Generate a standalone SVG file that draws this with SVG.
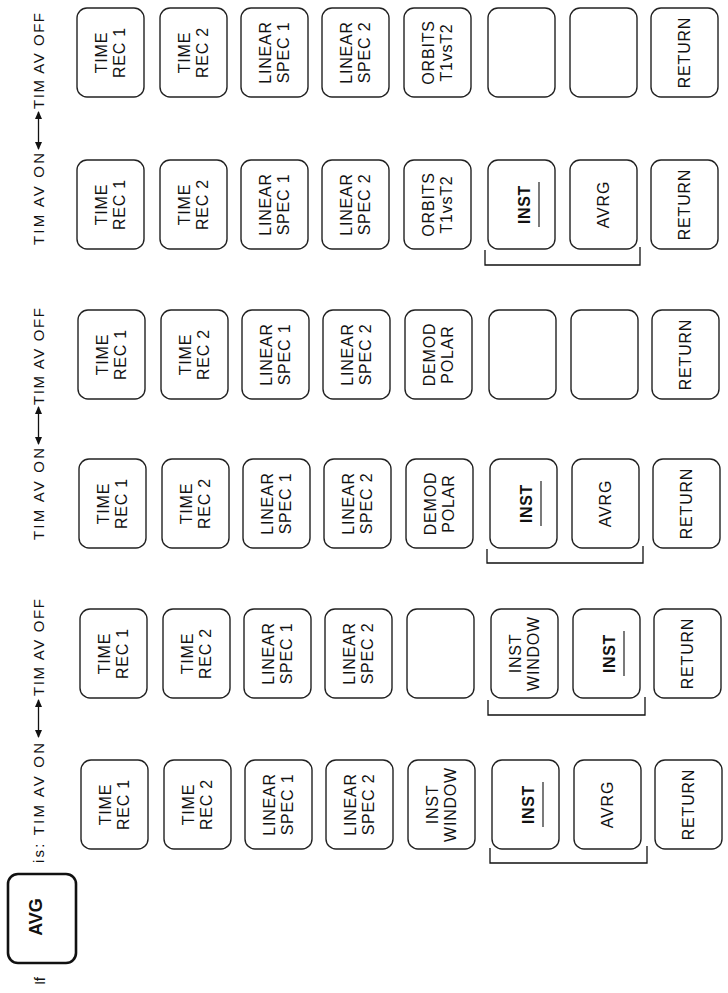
<svg xmlns="http://www.w3.org/2000/svg" width="728" height="993" viewBox="0 0 728 993">
<style>
.btn{fill:none;stroke:#222;stroke-width:1.4}
.lbl{font-family:"Liberation Sans",Arial,sans-serif;font-size:16px;letter-spacing:0.8px;fill:#111;text-anchor:middle}
.b{font-weight:bold;letter-spacing:0.6px}
.hdr{font-family:"Liberation Sans",Arial,sans-serif;font-size:15px;fill:#111}
.ul{stroke:#222;stroke-width:1.2}
.con{fill:none;stroke:#111;stroke-width:1.3}
</style>
<defs>
<marker id="ah" markerUnits="userSpaceOnUse" markerWidth="8" markerHeight="8" refX="7" refY="4" orient="auto-start-reverse" viewBox="0 0 8 8">
<path d="M0,0.5 L8,4 L0,7.5 z" fill="#111"/>
</marker>
</defs>
<rect width="728" height="993" fill="#fff"/>

<g id="header" class="hdr" transform="rotate(-90)">
<text x="-985" y="45" textLength="8">If</text>
<text x="-863" y="44" textLength="120" lengthAdjust="spacing">is: TIM AV ON</text>
<text x="-696" y="44" textLength="97" lengthAdjust="spacing">TIM AV OFF</text>
<text x="-540" y="44" textLength="92" lengthAdjust="spacing">TIM AV ON</text>
<text x="-405" y="44" textLength="97" lengthAdjust="spacing">TIM AV OFF</text>
<text x="-245" y="44" textLength="92" lengthAdjust="spacing">TIM AV ON</text>
<text x="-109" y="44" textLength="96" lengthAdjust="spacing">TIM AV OFF</text>
</g>

<g id="avg-key">
<rect x="8" y="874" width="68" height="89" rx="10" fill="none" stroke="#111" stroke-width="2.6"/>
<text transform="translate(42,917) rotate(-90)" y="0" font-family="Liberation Sans,Arial,sans-serif" font-size="18" font-weight="bold" text-anchor="middle" fill="#111">AVG</text>
</g>

<g id="connectors">
<line class="con" x1="38.5" y1="737" x2="38.5" y2="700" marker-start="url(#ah)" marker-end="url(#ah)"/>
<line class="con" x1="38.5" y1="444" x2="38.5" y2="407" marker-start="url(#ah)" marker-end="url(#ah)"/>
<line class="con" x1="38.5" y1="149" x2="38.5" y2="112" marker-start="url(#ah)" marker-end="url(#ah)"/>
<path class="con" d="M490,848 V863 H647 V846"/>
<path class="con" d="M488,700 V715 H645 V697"/>
<path class="con" d="M487,549 V563 H643 V546"/>
<path class="con" d="M485,250 V265 H640 V247"/>
</g>

<!-- Panel A: TIM AV ON (pair 1) -->
<g id="panel-A" transform="translate(2,760)">
<g id="A1" transform="translate(79,0)"><rect class="btn" width="67" height="89" rx="10"/><text class="lbl" transform="translate(33.5,44.5) rotate(-90)"><tspan x="0" y="-3.5">TIME</tspan><tspan x="0" y="14.5">REC 1</tspan></text></g>
<g id="A2" transform="translate(162,0)"><rect class="btn" width="67" height="89" rx="10"/><text class="lbl" transform="translate(33.5,44.5) rotate(-90)"><tspan x="0" y="-3.5">TIME</tspan><tspan x="0" y="14.5">REC 2</tspan></text></g>
<g id="A3" transform="translate(243,0)"><rect class="btn" width="67" height="89" rx="10"/><text class="lbl" transform="translate(33.5,44.5) rotate(-90)"><tspan x="0" y="-3.5">LINEAR</tspan><tspan x="0" y="14.5">SPEC 1</tspan></text></g>
<g id="A4" transform="translate(324,0)"><rect class="btn" width="67" height="89" rx="10"/><text class="lbl" transform="translate(33.5,44.5) rotate(-90)"><tspan x="0" y="-3.5">LINEAR</tspan><tspan x="0" y="14.5">SPEC 2</tspan></text></g>
<g id="A5" transform="translate(406,0)"><rect class="btn" width="67" height="89" rx="10"/><text class="lbl" transform="translate(33.5,44.5) rotate(-90)"><tspan x="0" y="-3.5">INST</tspan><tspan x="0" y="14.5">WINDOW</tspan></text></g>
<g id="A6" transform="translate(490,0)"><rect class="btn" width="67" height="89" rx="10"/><text class="lbl b" transform="translate(33.5,44.5) rotate(-90)" y="8">INST</text><line class="ul" x1="51" y1="22" x2="51" y2="67"/></g>
<g id="A7" transform="translate(572,0)"><rect class="btn" width="67" height="89" rx="10"/><text class="lbl" transform="translate(33.5,44.5) rotate(-90)" y="5.5">AVRG</text></g>
<g id="A8" transform="translate(653,0)"><rect class="btn" width="67" height="89" rx="10"/><text class="lbl" transform="translate(33.5,44.5) rotate(-90)" y="5.5">RETURN</text></g>
</g>

<!-- Panel B: TIM AV OFF (pair 1) -->
<g id="panel-B" transform="translate(1,609)">
<g id="B1" transform="translate(79,0)"><rect class="btn" width="67" height="89" rx="10"/><text class="lbl" transform="translate(33.5,44.5) rotate(-90)"><tspan x="0" y="-3.5">TIME</tspan><tspan x="0" y="14.5">REC 1</tspan></text></g>
<g id="B2" transform="translate(162,0)"><rect class="btn" width="67" height="89" rx="10"/><text class="lbl" transform="translate(33.5,44.5) rotate(-90)"><tspan x="0" y="-3.5">TIME</tspan><tspan x="0" y="14.5">REC 2</tspan></text></g>
<g id="B3" transform="translate(243,0)"><rect class="btn" width="67" height="89" rx="10"/><text class="lbl" transform="translate(33.5,44.5) rotate(-90)"><tspan x="0" y="-3.5">LINEAR</tspan><tspan x="0" y="14.5">SPEC 1</tspan></text></g>
<g id="B4" transform="translate(324,0)"><rect class="btn" width="67" height="89" rx="10"/><text class="lbl" transform="translate(33.5,44.5) rotate(-90)"><tspan x="0" y="-3.5">LINEAR</tspan><tspan x="0" y="14.5">SPEC 2</tspan></text></g>
<g id="B5" transform="translate(406,0)"><rect class="btn" width="67" height="89" rx="10"/></g>
<g id="B6" transform="translate(490,0)"><rect class="btn" width="67" height="89" rx="10"/><text class="lbl" transform="translate(33.5,44.5) rotate(-90)"><tspan x="0" y="-3.5">INST</tspan><tspan x="0" y="14.5">WINDOW</tspan></text></g>
<g id="B7" transform="translate(572,0)"><rect class="btn" width="67" height="89" rx="10"/><text class="lbl b" transform="translate(33.5,44.5) rotate(-90)" y="8">INST</text><line class="ul" x1="51" y1="22" x2="51" y2="67"/></g>
<g id="B8" transform="translate(653,0)"><rect class="btn" width="67" height="89" rx="10"/><text class="lbl" transform="translate(33.5,44.5) rotate(-90)" y="5.5">RETURN</text></g>
</g>

<!-- Panel D: TIM AV ON (pair 2) -->
<g id="panel-D" transform="translate(0,459)">
<g id="D1" transform="translate(79,0)"><rect class="btn" width="67" height="89" rx="10"/><text class="lbl" transform="translate(33.5,44.5) rotate(-90)"><tspan x="0" y="-3.5">TIME</tspan><tspan x="0" y="14.5">REC 1</tspan></text></g>
<g id="D2" transform="translate(162,0)"><rect class="btn" width="67" height="89" rx="10"/><text class="lbl" transform="translate(33.5,44.5) rotate(-90)"><tspan x="0" y="-3.5">TIME</tspan><tspan x="0" y="14.5">REC 2</tspan></text></g>
<g id="D3" transform="translate(243,0)"><rect class="btn" width="67" height="89" rx="10"/><text class="lbl" transform="translate(33.5,44.5) rotate(-90)"><tspan x="0" y="-3.5">LINEAR</tspan><tspan x="0" y="14.5">SPEC 1</tspan></text></g>
<g id="D4" transform="translate(324,0)"><rect class="btn" width="67" height="89" rx="10"/><text class="lbl" transform="translate(33.5,44.5) rotate(-90)"><tspan x="0" y="-3.5">LINEAR</tspan><tspan x="0" y="14.5">SPEC 2</tspan></text></g>
<g id="D5" transform="translate(406,0)"><rect class="btn" width="67" height="89" rx="10"/><text class="lbl" transform="translate(33.5,44.5) rotate(-90)"><tspan x="0" y="-3.5">DEMOD</tspan><tspan x="0" y="14.5">POLAR</tspan></text></g>
<g id="D6" transform="translate(490,0)"><rect class="btn" width="67" height="89" rx="10"/><text class="lbl b" transform="translate(33.5,44.5) rotate(-90)" y="8">INST</text><line class="ul" x1="51" y1="22" x2="51" y2="67"/></g>
<g id="D7" transform="translate(572,0)"><rect class="btn" width="67" height="89" rx="10"/><text class="lbl" transform="translate(33.5,44.5) rotate(-90)" y="5.5">AVRG</text></g>
<g id="D8" transform="translate(653,0)"><rect class="btn" width="67" height="89" rx="10"/><text class="lbl" transform="translate(33.5,44.5) rotate(-90)" y="5.5">RETURN</text></g>
</g>

<!-- Panel C: TIM AV OFF (pair 2) -->
<g id="panel-C" transform="translate(-1,310)">
<g id="C1" transform="translate(79,0)"><rect class="btn" width="67" height="89" rx="10"/><text class="lbl" transform="translate(33.5,44.5) rotate(-90)"><tspan x="0" y="-3.5">TIME</tspan><tspan x="0" y="14.5">REC 1</tspan></text></g>
<g id="C2" transform="translate(162,0)"><rect class="btn" width="67" height="89" rx="10"/><text class="lbl" transform="translate(33.5,44.5) rotate(-90)"><tspan x="0" y="-3.5">TIME</tspan><tspan x="0" y="14.5">REC 2</tspan></text></g>
<g id="C3" transform="translate(243,0)"><rect class="btn" width="67" height="89" rx="10"/><text class="lbl" transform="translate(33.5,44.5) rotate(-90)"><tspan x="0" y="-3.5">LINEAR</tspan><tspan x="0" y="14.5">SPEC 1</tspan></text></g>
<g id="C4" transform="translate(324,0)"><rect class="btn" width="67" height="89" rx="10"/><text class="lbl" transform="translate(33.5,44.5) rotate(-90)"><tspan x="0" y="-3.5">LINEAR</tspan><tspan x="0" y="14.5">SPEC 2</tspan></text></g>
<g id="C5" transform="translate(406,0)"><rect class="btn" width="67" height="89" rx="10"/><text class="lbl" transform="translate(33.5,44.5) rotate(-90)"><tspan x="0" y="-3.5">DEMOD</tspan><tspan x="0" y="14.5">POLAR</tspan></text></g>
<g id="C6" transform="translate(490,0)"><rect class="btn" width="67" height="89" rx="10"/></g>
<g id="C7" transform="translate(572,0)"><rect class="btn" width="67" height="89" rx="10"/></g>
<g id="C8" transform="translate(653,0)"><rect class="btn" width="67" height="89" rx="10"/><text class="lbl" transform="translate(33.5,44.5) rotate(-90)" y="5.5">RETURN</text></g>
</g>

<!-- Panel E: TIM AV ON (pair 3) -->
<g id="panel-E" transform="translate(-2,160)">
<g id="E1" transform="translate(79,0)"><rect class="btn" width="67" height="89" rx="10"/><text class="lbl" transform="translate(33.5,44.5) rotate(-90)"><tspan x="0" y="-3.5">TIME</tspan><tspan x="0" y="14.5">REC 1</tspan></text></g>
<g id="E2" transform="translate(162,0)"><rect class="btn" width="67" height="89" rx="10"/><text class="lbl" transform="translate(33.5,44.5) rotate(-90)"><tspan x="0" y="-3.5">TIME</tspan><tspan x="0" y="14.5">REC 2</tspan></text></g>
<g id="E3" transform="translate(243,0)"><rect class="btn" width="67" height="89" rx="10"/><text class="lbl" transform="translate(33.5,44.5) rotate(-90)"><tspan x="0" y="-3.5">LINEAR</tspan><tspan x="0" y="14.5">SPEC 1</tspan></text></g>
<g id="E4" transform="translate(324,0)"><rect class="btn" width="67" height="89" rx="10"/><text class="lbl" transform="translate(33.5,44.5) rotate(-90)"><tspan x="0" y="-3.5">LINEAR</tspan><tspan x="0" y="14.5">SPEC 2</tspan></text></g>
<g id="E5" transform="translate(406,0)"><rect class="btn" width="67" height="89" rx="10"/><text class="lbl" transform="translate(33.5,44.5) rotate(-90)"><tspan x="0" y="-3.5">ORBITS</tspan><tspan x="0" y="14.5">T1vsT2</tspan></text></g>
<g id="E6" transform="translate(490,0)"><rect class="btn" width="67" height="89" rx="10"/><text class="lbl b" transform="translate(33.5,44.5) rotate(-90)" y="8">INST</text><line class="ul" x1="51" y1="22" x2="51" y2="67"/></g>
<g id="E7" transform="translate(572,0)"><rect class="btn" width="67" height="89" rx="10"/><text class="lbl" transform="translate(33.5,44.5) rotate(-90)" y="5.5">AVRG</text></g>
<g id="E8" transform="translate(653,0)"><rect class="btn" width="67" height="89" rx="10"/><text class="lbl" transform="translate(33.5,44.5) rotate(-90)" y="5.5">RETURN</text></g>
</g>

<!-- Panel F: TIM AV OFF (pair 3) -->
<g id="panel-F" transform="translate(-2,8)">
<g id="F1" transform="translate(79,0)"><rect class="btn" width="67" height="89" rx="10"/><text class="lbl" transform="translate(33.5,44.5) rotate(-90)"><tspan x="0" y="-3.5">TIME</tspan><tspan x="0" y="14.5">REC 1</tspan></text></g>
<g id="F2" transform="translate(162,0)"><rect class="btn" width="67" height="89" rx="10"/><text class="lbl" transform="translate(33.5,44.5) rotate(-90)"><tspan x="0" y="-3.5">TIME</tspan><tspan x="0" y="14.5">REC 2</tspan></text></g>
<g id="F3" transform="translate(243,0)"><rect class="btn" width="67" height="89" rx="10"/><text class="lbl" transform="translate(33.5,44.5) rotate(-90)"><tspan x="0" y="-3.5">LINEAR</tspan><tspan x="0" y="14.5">SPEC 1</tspan></text></g>
<g id="F4" transform="translate(324,0)"><rect class="btn" width="67" height="89" rx="10"/><text class="lbl" transform="translate(33.5,44.5) rotate(-90)"><tspan x="0" y="-3.5">LINEAR</tspan><tspan x="0" y="14.5">SPEC 2</tspan></text></g>
<g id="F5" transform="translate(406,0)"><rect class="btn" width="67" height="89" rx="10"/><text class="lbl" transform="translate(33.5,44.5) rotate(-90)"><tspan x="0" y="-3.5">ORBITS</tspan><tspan x="0" y="14.5">T1vsT2</tspan></text></g>
<g id="F6" transform="translate(490,0)"><rect class="btn" width="67" height="89" rx="10"/></g>
<g id="F7" transform="translate(572,0)"><rect class="btn" width="67" height="89" rx="10"/></g>
<g id="F8" transform="translate(653,0)"><rect class="btn" width="67" height="89" rx="10"/><text class="lbl" transform="translate(33.5,44.5) rotate(-90)" y="5.5">RETURN</text></g>
</g>
</svg>
